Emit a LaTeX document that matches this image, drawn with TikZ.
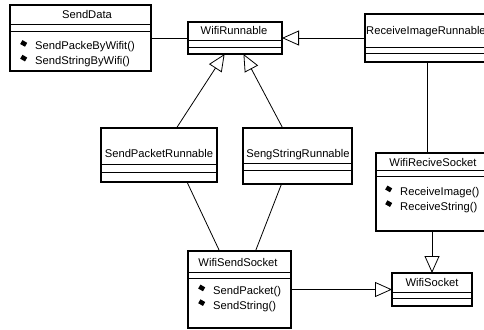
\documentclass[tikz,border=0pt]{standalone}
\usepackage{fontspec}
\setmainfont{Liberation Sans}
\usetikzlibrary{arrows.meta}
\tikzstyle{classbox} = [draw, line width=1.2pt, outer sep=0pt, inner sep=0pt]
\tikzstyle{classname} = [inner sep=0pt, text height=8pt, text depth=0pt, font=\fontsize{11.2}{14.7}\selectfont]
\tikzstyle{oplist} = [inner sep=0pt, align=left, anchor=base west, font=\fontsize{11.2}{14.7}\selectfont]
\tikzstyle{divider} = [line width=0.8pt]
\tikzstyle{assoc} = [line width=0.8pt]
\tikzstyle{inherit} = [line width=0.8pt, -{Triangle[open, length=17pt, width=15pt]}]
\newcommand{\opmark}{\raisebox{5.8pt}{\rotatebox{-30}{\rule{5.5pt}{4.5pt}}}\hspace{8pt}}

\begin{document}
\begin{tikzpicture}[x=1pt, y=-1pt]
\useasboundingbox (0,0) rectangle (484,329);
\clip (0,0) rectangle (484,329);

% Classes
\node[classbox, minimum width=141pt, minimum height=66pt] (senddata) at (80.5, 38) {};
\node[classbox, minimum width=94pt, minimum height=32pt] (wifirun) at (235, 38) {};
\node[classbox, minimum width=124pt, minimum height=48pt] (recvrun) at (427, 38) {};
\node[classbox, minimum width=116pt, minimum height=54pt] (sendpkt) at (159, 155) {};
\node[classbox, minimum width=109pt, minimum height=56pt] (sendstr) at (297.5, 156) {};
\node[classbox, minimum width=112pt, minimum height=78pt] (recvsock) at (432, 192) {};
\node[classbox, minimum width=103pt, minimum height=77pt] (sendsock) at (239.5, 289.5) {};
\node[classbox, minimum width=80pt, minimum height=33pt] (wifisock) at (432, 289.5) {};

% Compartment lines
\foreach \n/\a/\b in {senddata/19/26, wifirun/18/25, recvrun/33/39, sendpkt/36/44,
    sendstr/35/42, recvsock/17/23, sendsock/21/27, wifisock/19/25}
  \draw[divider] ([yshift=-\a pt]\n.north west) -- ([yshift=-\a pt]\n.north east)
    ([yshift=-\b pt]\n.north west) -- ([yshift=-\b pt]\n.north east);

% Class names
\node[classname] (senddata-name) at (87, 14.5) {SendData};
\node[classname] (wifirun-name) at (234, 31) {WifiRunnable};
\node[classname, anchor=west] (recvrun-name) at (366, 31) {ReceiveImageRunnable};
\node[classname] (sendpkt-name) at (159, 153) {SendPacketRunnable};
\node[classname] (sendstr-name) at (298, 153) {SengStringRunnable};
\node[classname] (recvsock-name) at (433, 162) {WifiReciveSocket};
\node[classname] (sendsock-name) at (238, 262) {WifiSendSocket};
\node[classname] (wifisock-name) at (432, 282.5) {WifiSocket};

% Operations (anchored at the last line)
\node[oplist] (senddata-ops) at (20, 64.5) {\opmark SendPackeByWifit()\\\opmark SendStringByWifi()};
\node[oplist] (recvsock-ops) at (385, 210) {\opmark ReceiveImage()\\\opmark ReceiveString()};
\node[oplist] (sendsock-ops) at (198, 309) {\opmark SendPacket()\\\opmark SendString()};

% Relations
\draw[assoc] (senddata) -- (wifirun);
\draw[inherit] (recvrun) -- (wifirun);
\draw[inherit] (sendpkt) -- (wifirun);
\draw[inherit] (sendstr) -- (wifirun);
\draw[assoc] ([xshift=28pt]sendpkt.south) -- ([xshift=-20pt]sendsock.north);
\draw[assoc] ([xshift=-16pt]sendstr.south) -- ([xshift=16pt]sendsock.north);
\draw[assoc] (recvrun) -- (recvrun |- recvsock.north);
\draw[inherit] (recvsock) -- (wifisock);
\draw[inherit] (sendsock) -- (wifisock);
\end{tikzpicture}
\end{document}
